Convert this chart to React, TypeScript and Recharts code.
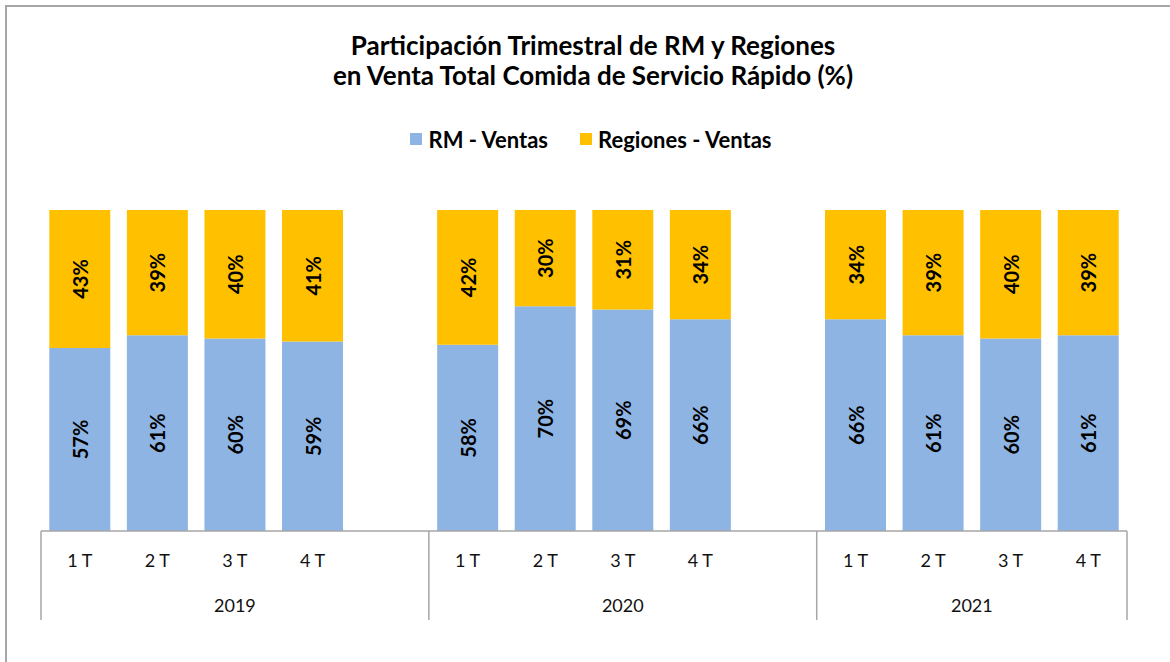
import React from 'react';
import { BarChart, Bar, XAxis, YAxis, Legend, LabelList } from 'recharts';

const YEARS = ['2019', '2020', '2021'];
const QUARTERS = ['1 T', '2 T', '3 T', '4 T'];
const RM_VENTAS = [
  [57, 61, 60, 59],
  [58, 70, 69, 66],
  [66, 61, 60, 61],
];
const REGIONES_VENTAS = [
  [43, 39, 40, 41],
  [42, 30, 31, 34],
  [34, 39, 40, 39],
];

const BLUE = '#8EB4E3';
const GOLD = '#FFC000';
const AXIS = '#A6A6A6';
const FONT = 'Lato, "Noto Sans", sans-serif';

const CHART_W = 1163;
const CHART_H = 647;
const MARGIN = { top: 120, right: 43, bottom: 33, left: 34 };
const PLOT_W = CHART_W - MARGIN.left - MARGIN.right;

type Row = {
  key: string;
  q: string;
  year: string;
  groupStart: boolean;
  groupSlots: number;
  rm: number | null;
  reg: number | null;
};

// one slot per quarter, plus an empty slot between years
const rows: Row[] = [];
YEARS.forEach((year, yi) => {
  const slots = yi < YEARS.length - 1 ? QUARTERS.length + 1 : QUARTERS.length;
  QUARTERS.forEach((q, qi) => {
    rows.push({
      key: `${year}-${q}`,
      q,
      year,
      groupStart: qi === 0,
      groupSlots: slots,
      rm: RM_VENTAS[yi][qi],
      reg: REGIONES_VENTAS[yi][qi],
    });
  });
  if (yi < YEARS.length - 1) {
    rows.push({ key: `gap-${year}`, q: '', year, groupStart: false, groupSlots: slots, rm: null, reg: null });
  }
});

const AxisTick = (props: any) => {
  const { x, y, index } = props;
  const row = rows[index];
  if (!row) return null;
  const slot = PLOT_W / rows.length;
  const left = x - slot / 2;
  return (
    <g>
      {row.q && (
        <text x={x} y={y + 36} textAnchor="middle" fontSize={18} fontFamily={FONT} fill="#111">
          {row.q}
        </text>
      )}
      {row.groupStart && (
        <>
          <line x1={left} x2={left} y1={y} y2={y + 89} stroke={AXIS} strokeWidth={1.5} />
          <text
            x={left + (row.groupSlots * slot) / 2}
            y={y + 81}
            textAnchor="middle"
            fontSize={18}
            fontFamily={FONT}
            fill="#111"
          >
            {row.year}
          </text>
        </>
      )}
      {index === rows.length - 1 && (
        <line x1={x + slot / 2} x2={x + slot / 2} y1={y} y2={y + 89} stroke={AXIS} strokeWidth={1.5} />
      )}
    </g>
  );
};

const BarValue = (props: any) => {
  const { x, y, width, height, value } = props;
  if (value == null) return null;
  const cx = x + width / 2;
  const cy = y + height / 2;
  return (
    <text
      x={cx}
      y={cy}
      transform={`rotate(-90 ${cx} ${cy})`}
      textAnchor="middle"
      dominantBaseline="central"
      fontSize={20}
      fontWeight={700}
      fontFamily={FONT}
      fill="#000"
    >
      {`${value}%`}
    </text>
  );
};

const LegendContent = (props: any) => {
  const { payload } = props;
  return (
    <div style={{ height: 83, paddingLeft: 14 }}>
      <div style={{ display: 'flex', justifyContent: 'center', height: 24, alignItems: 'center', gap: 32 }}>
        {(payload || []).map((entry: any) => (
          <div key={entry.value} style={{ display: 'flex', alignItems: 'center' }}>
            <span style={{ width: 12, height: 12, background: entry.color, display: 'inline-block', marginRight: 6 }} />
            <span style={{ fontFamily: FONT, fontWeight: 700, fontSize: 22, color: '#000' }}>{entry.value}</span>
          </div>
        ))}
      </div>
    </div>
  );
};

export default function App() {
  return (
    <div
      style={{
        position: 'absolute',
        left: 5,
        top: 5,
        width: 1165,
        height: 657,
        boxSizing: 'border-box',
        borderLeft: `2px solid ${AXIS}`,
        borderTop: `2px solid ${AXIS}`,
        overflow: 'hidden',
        background: '#fff',
      }}
    >
      <div
        style={{
          position: 'absolute',
          top: 23,
          left: 0,
          width: '100%',
          paddingLeft: 9,
          boxSizing: 'border-box',
          textAlign: 'center',
          fontFamily: FONT,
          fontWeight: 700,
          fontSize: 26,
          lineHeight: '30px',
          color: '#000',
          zIndex: 1,
        }}
      >
        Participación Trimestral de RM y Regiones
        <br />
        en Venta Total Comida de Servicio Rápido (%)
      </div>
      <BarChart width={CHART_W} height={CHART_H} data={rows} margin={MARGIN} barCategoryGap="10.7%">
        <XAxis
          dataKey="key"
          type="category"
          interval={0}
          height={90}
          tickLine={false}
          tickSize={0}
          tickMargin={0}
          axisLine={{ stroke: AXIS, strokeWidth: 1.5 }}
          tick={<AxisTick />}
        />
        <YAxis hide domain={[0, 100]} />
        <Legend verticalAlign="top" align="center" content={<LegendContent />} />
        <Bar dataKey="rm" name="RM - Ventas" stackId="a" fill={BLUE} isAnimationActive={false}>
          <LabelList dataKey="rm" content={<BarValue />} />
        </Bar>
        <Bar dataKey="reg" name="Regiones - Ventas" stackId="a" fill={GOLD} isAnimationActive={false}>
          <LabelList dataKey="reg" content={<BarValue />} />
        </Bar>
      </BarChart>
    </div>
  );
}
